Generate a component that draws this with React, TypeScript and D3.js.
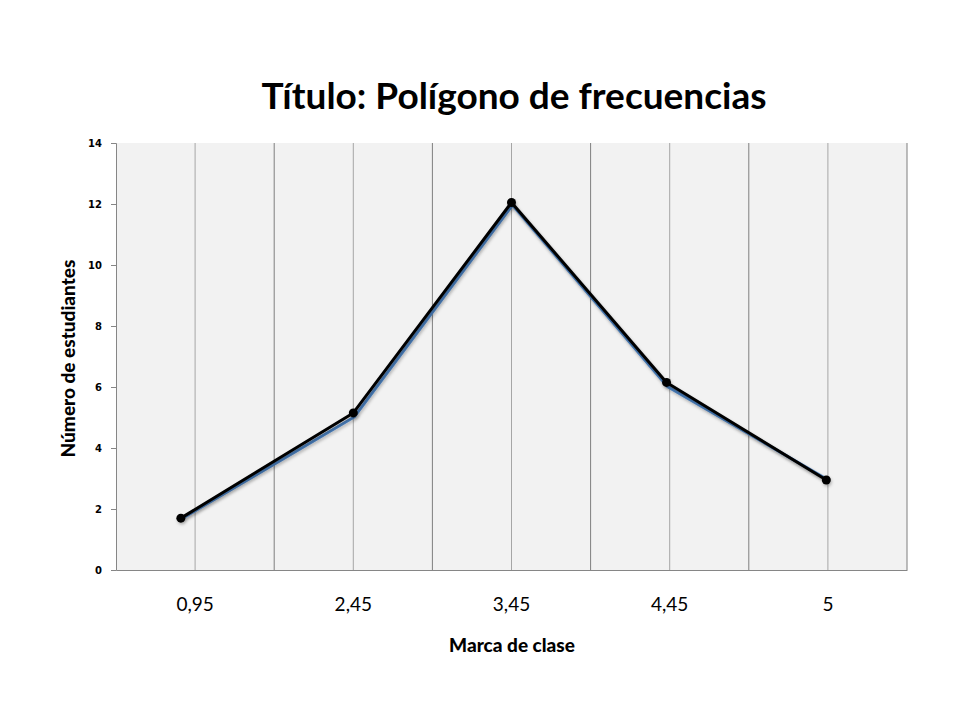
import * as d3 from 'd3';
import React, { useEffect, useRef } from 'react';

const categories = ['0,95', '2,45', '3,45', '4,45', '5'];
const blueValues = [1.7, 5.05, 12, 6.05, 3.0];
// hand-drawn black polygon laid over the blue series
const blackValues = [1.7, 5.15, 12.05, 6.15, 2.95];
const pointShift = [-0.09, 0, 0, -0.02, -0.01];
const yTicks = [0, 2, 4, 6, 8, 10, 12, 14];

const width = 960;
const height = 720;
const margin = { left: 116, right: 53, top: 143, bottom: 150 };

export default function App() {
  const ref = useRef<SVGSVGElement>(null);

  useEffect(() => {
    const svg = d3.select(ref.current);
    svg.selectAll('*').remove();

    const x0 = margin.left;
    const x1 = width - margin.right;
    const y0 = height - margin.bottom;
    const y1 = margin.top;

    const x = d3.scaleBand<string>().domain(categories).range([x0, x1]);
    const xi = d3.scaleLinear().domain([0, categories.length]).range([x0, x1]);
    const y = d3.scaleLinear().domain([0, 14]).range([y0, y1]);

    const defs = svg.append('defs');
    const f = defs.append('filter').attr('id', 'sh').attr('x', '-10%').attr('y', '-10%').attr('width', '120%').attr('height', '130%');
    f.append('feDropShadow').attr('dx', 1).attr('dy', 2).attr('stdDeviation', 1.5).attr('flood-color', '#000').attr('flood-opacity', 0.25);

    svg.append('rect').attr('x', 0).attr('y', 0).attr('width', width).attr('height', height).attr('fill', '#fff');

    svg.append('rect')
      .attr('x', x0).attr('y', y1).attr('width', x1 - x0).attr('height', y0 - y1)
      .attr('fill', '#f2f2f2');

    // vertical gridlines at band edges and centres
    const gridX: number[] = [];
    categories.forEach((c) => {
      gridX.push((x(c) as number) + x.bandwidth() / 2);
      gridX.push((x(c) as number) + x.bandwidth());
    });
    svg.append('g').selectAll('line').data(gridX).enter().append('line')
      .attr('x1', (d) => d).attr('x2', (d) => d)
      .attr('y1', y1).attr('y2', y0)
      .attr('stroke', (d, i) => (i % 2 === 0 ? '#a6a6a6' : '#7f7f7f'))
      .attr('stroke-width', 1);

    // y axis
    const yAxis = svg.append('g').attr('transform', `translate(${x0},0)`)
      .call(d3.axisLeft(y).tickValues(yTicks).tickSize(5).tickPadding(9).tickFormat(d3.format('d')));
    yAxis.select('.domain').attr('stroke', '#868686');
    yAxis.selectAll('.tick line').attr('stroke', '#868686');
    yAxis.selectAll('.tick text')
      .attr('font-family', 'DejaVu Sans')
      .attr('font-weight', 'bold')
      .attr('font-size', 10)
      .attr('fill', '#000');

    // x axis
    const xAxis = svg.append('g').attr('transform', `translate(0,${y0})`)
      .call(d3.axisBottom(x).tickSize(0).tickPadding(28));
    xAxis.select('.domain').attr('stroke', '#868686');
    xAxis.selectAll('.tick text')
      .attr('font-family', 'Lato')
      .attr('font-size', 19)
      .attr('fill', '#000');

    const px = (i: number) => xi(i + 0.5 + pointShift[i]);

    const lineBlue = d3.line<number>().x((d, i) => px(i) + (i === 0 ? 0 : 1)).y((d) => y(d) + 1);
    svg.append('path').datum(blueValues)
      .attr('d', lineBlue)
      .attr('fill', 'none').attr('stroke', '#4a7ebb').attr('stroke-width', 3)
      .attr('filter', 'url(#sh)');

    const lineBlack = d3.line<number>().x((d, i) => px(i)).y((d) => y(d));
    const gb = svg.append('g').attr('filter', 'url(#sh)');
    gb.append('path').datum(blackValues)
      .attr('d', lineBlack)
      .attr('fill', 'none').attr('stroke', '#000').attr('stroke-width', 3)
      .attr('stroke-linejoin', 'round');
    gb.selectAll('circle').data(blackValues).enter().append('circle')
      .attr('cx', (d, i) => px(i)).attr('cy', (d) => y(d)).attr('r', 4.5).attr('fill', '#000');

    svg.append('text')
      .attr('x', 514).attr('y', 109)
      .attr('text-anchor', 'middle')
      .attr('font-family', 'Lato').attr('font-weight', 'bold').attr('font-size', 37)
      .attr('fill', '#000')
      .text('Título: Polígono de frecuencias');

    svg.append('text')
      .attr('transform', `translate(75,${(y0 + y1) / 2 + 2}) rotate(-90)`)
      .attr('text-anchor', 'middle')
      .attr('font-family', 'Lato').attr('font-weight', 900).attr('font-size', 19)
      .attr('fill', '#000')
      .text('Número de estudiantes');

    svg.append('text')
      .attr('x', 512).attr('y', 652)
      .attr('text-anchor', 'middle')
      .attr('font-family', 'Lato').attr('font-weight', 900).attr('font-size', 19)
      .attr('fill', '#000')
      .text('Marca de clase');
  }, []);

  return (
    <svg
      ref={ref}
      width={width}
      height={height}
      style={{ position: 'absolute', left: 0, top: 0, display: 'block' }}
    ></svg>
  );
}
